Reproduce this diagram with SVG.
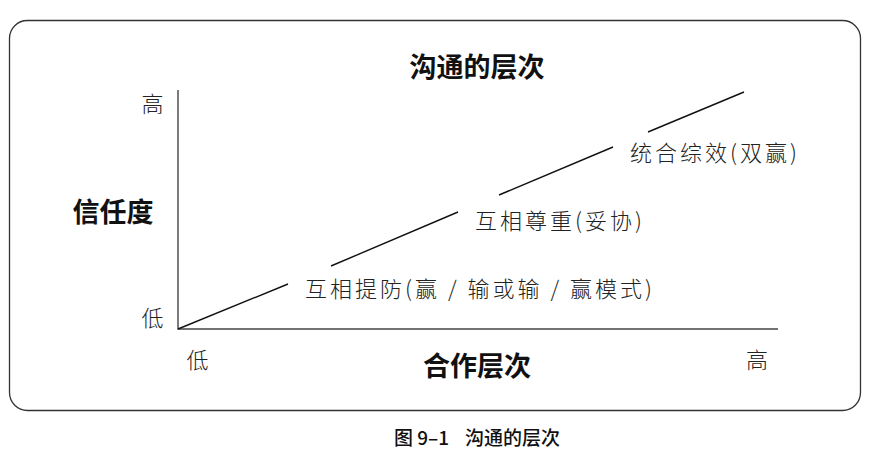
<svg xmlns="http://www.w3.org/2000/svg" width="884" height="460" viewBox="0 0 884 460">
<style>
.frame{fill:#fff;stroke:#333;stroke-width:1.3}
.ax{stroke:#444;stroke-width:1.4;fill:none}
.seg{stroke:#111;stroke-width:1.4;fill:none}
.hd{font-family:"Noto Sans CJK SC","Liberation Sans",sans-serif;font-weight:700;font-size:27px;fill:#111}
.lb{font-family:"Noto Sans CJK SC","Liberation Sans",sans-serif;font-weight:300;font-size:22px;fill:#222}
.cap{font-family:"Noto Sans CJK SC","Liberation Sans",sans-serif;font-weight:500;font-size:19px;fill:#111}
</style>
<rect width="884" height="460" fill="#fff"/>
<rect class="frame" x="9.5" y="20.5" width="851" height="390" rx="18" ry="18"/>
<g id="title"><text class="hd" x="477" y="77" text-anchor="middle">沟通的层次</text></g>
<g id="axes">
<polyline class="ax" points="178,90 178,329 778,329"/>
</g>
<g id="axis-labels">
<text class="hd" x="113" y="222" text-anchor="middle">信任度</text>
<text class="hd" x="477" y="376" text-anchor="middle">合作层次</text>
<text class="lb" x="152.5" y="112" text-anchor="middle">高</text>
<text class="lb" x="152.5" y="326" text-anchor="middle">低</text>
<text class="lb" x="197.5" y="368" text-anchor="middle">低</text>
<text class="lb" x="757" y="368" text-anchor="middle">高</text>
</g>
<g id="connectors">
<line class="seg" x1="178" y1="329" x2="288" y2="284"/>
<line class="seg" x1="331" y1="266" x2="458" y2="212"/>
<line class="seg" x1="499" y1="195" x2="613" y2="147"/>
<line class="seg" x1="648" y1="132" x2="744" y2="92"/>
</g>
<g id="level1"><text class="lb" x="305" y="297" textLength="347" lengthAdjust="spacing">互相提防(赢 / 输或输 / 赢模式)</text></g>
<g id="level2"><text class="lb" x="475" y="229" textLength="167" lengthAdjust="spacing">互相尊重(妥协)</text></g>
<g id="level3"><text class="lb" x="630" y="161" textLength="167" lengthAdjust="spacing">统合综效(双赢)</text></g>
<g id="caption"><text class="cap" x="477" y="445" text-anchor="middle">图 9–1<tspan dx="16">沟通的层次</tspan></text></g>
</svg>
